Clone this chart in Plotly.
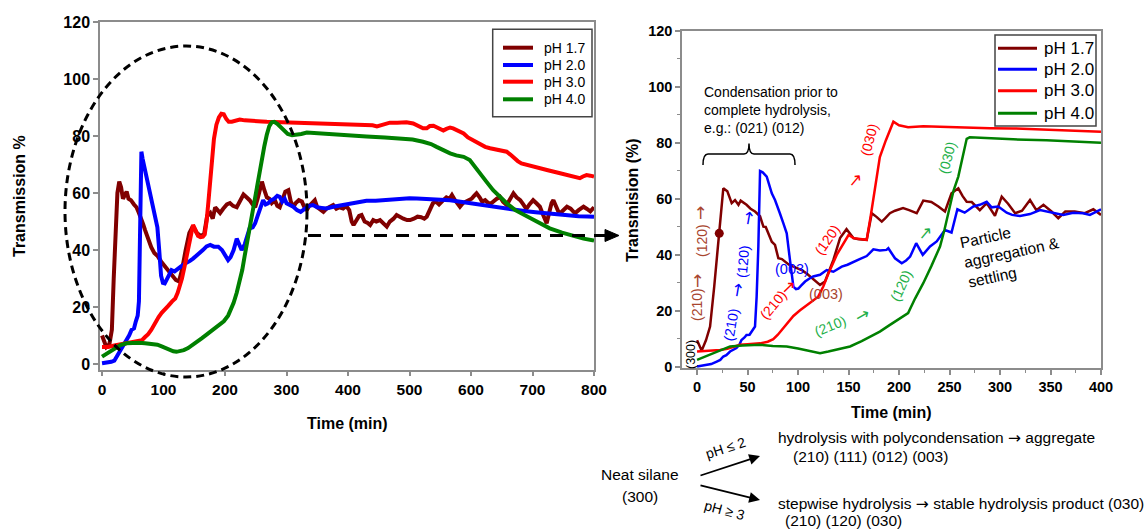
import plotly.graph_objects as go

W, H = 1148, 530


def fx(p):
    return p / W


def fy(p):
    return 1 - p / H


series_names = ["pH 1.7", "pH 2.0", "pH 3.0", "pH 4.0"]
line_colors = ["#800000", "#0000FF", "#FF0000", "#008000"]

# ---------------- left panel (0-800 min) : (time, transmission) ----------------
left_ph17 = [(0, 10), (3, 8), (7, 6), (12, 7), (16, 12), (19, 30), (22, 48), (25, 60), (28, 64), (31, 62),
             (34, 58), (37, 59), (40, 60.5), (43, 58), (47, 57.5), (52, 56), (56, 55), (60, 53), (64, 51),
             (67, 49), (70, 47), (73, 45), (76, 43), (80, 41), (85, 39), (90, 38), (96, 36), (102, 34.5),
             (108, 33), (114, 31.5), (120, 29.5), (125, 29), (130, 33), (136, 40), (142, 46), (148, 48.5),
             (154, 46), (160, 45), (166, 45.5), (171, 52), (176, 53), (180, 51), (184, 55), (188, 54),
             (192, 53), (197, 54.5), (203, 56), (208, 56.5), (213, 55.5), (219, 55), (224, 57), (230, 59.5),
             (235, 58.5), (240, 57.5), (245, 56), (249, 55), (253, 58), (257, 62), (260, 64), (264, 61),
             (268, 58.5), (272, 58), (276, 56.5), (281, 57.5), (285, 55.5), (289, 55), (293, 58), (298, 60.5),
             (303, 61), (307, 57), (311, 55), (315, 56.5), (320, 57.5), (325, 57), (329, 55), (333, 54),
             (337, 55.5), (341, 56.5), (346, 57.5), (350, 55), (355, 54), (360, 53.4), (365, 54.5), (370, 55),
             (376, 55.8), (381, 54.5), (386, 55), (392, 54.6), (397, 55.5), (402, 54), (406, 50), (409, 48.8),
             (414, 50.5), (418, 52), (422, 52.3), (427, 50), (432, 49.5), (436, 48.8), (441, 50.5), (446, 50),
             (452, 50.5), (457, 49.5), (463, 48.2), (468, 50), (474, 51), (479, 52.3), (485, 51.5), (490, 51),
             (496, 50.5), (501, 50.5), (507, 51), (513, 51.7), (519, 51.5), (524, 51), (528, 51.7), (533, 54),
             (538, 56.4), (543, 57), (548, 56), (555, 57.5), (560, 58.5), (565, 58), (569, 59.3), (574, 57.5),
             (578, 56), (582, 55.2), (587, 56.5), (591, 57), (596, 57.5), (601, 58), (605, 59), (609, 59.9),
             (614, 58.5), (618, 57), (623, 57.5), (628, 56.5), (633, 56.4), (638, 57.5), (642, 58), (647, 58.7),
             (652, 57), (658, 55.8), (663, 58), (669, 59.9), (674, 58.5), (680, 57.5), (685, 56), (690, 54.4),
             (695, 56), (701, 57.5), (706, 56.5), (712, 55.2), (716, 53), (720, 50.5), (723, 49.4), (727, 53),
             (731, 56.5), (734, 57.5), (738, 55.5), (742, 53.5), (745, 52.9), (750, 54), (756, 55.2),
             (762, 54.5), (769, 52.9), (775, 54), (783, 55.2), (788, 54.5), (794, 53.6), (800, 55)]

left_ph20 = [(0, 0.3), (5, 0.5), (10, 0.4), (15, 0.8), (20, 1.2), (25, 3), (30, 4.5), (35, 6.5), (40, 8),
             (44, 10), (48, 12), (52, 12.5), (55, 15), (58, 17), (60, 22), (62, 50), (64, 74.5), (66, 72),
             (70, 68), (74, 64), (78, 60), (82, 56), (86, 53), (90, 48), (93, 40), (96, 31), (99, 28.5),
             (102, 28.3), (106, 30), (110, 32), (113, 33), (118, 32.5), (123, 33.5), (128, 34.2), (133, 35),
             (138, 35.5), (143, 36.2), (148, 37), (154, 38), (159, 38.8), (164, 40), (170, 41.3), (176, 41.8),
             (182, 41.2), (189, 41.2), (195, 40), (200, 38), (205, 36.5), (209, 37.5), (214, 40), (219, 44),
             (223, 42), (227, 40), (232, 42), (236, 45), (240, 47.6), (245, 48), (249, 49.4), (253, 52),
             (257, 55), (262, 57.5), (266, 56), (270, 56.4), (275, 57.5), (280, 58), (285, 59), (289, 58.7),
             (293, 57), (297, 58), (300, 56.4), (305, 56), (311, 55.2), (317, 54), (323, 53.4), (330, 54.5),
             (337, 55.5), (343, 55.8), (350, 55), (357, 54.8), (365, 54.6), (376, 55.2), (385, 55.5),
             (393, 56), (403, 56.4), (415, 56.8), (430, 57.3), (445, 57.3), (457, 57.5), (470, 57.8),
             (485, 58), (500, 58.2), (512, 58.1), (525, 58), (540, 57.8), (555, 57.6), (566, 57.5), (580, 57),
             (595, 56.5), (610, 56), (620, 55.8), (635, 55.2), (650, 54.7), (662, 54.3), (674, 54),
             (690, 53.6), (705, 53.3), (718, 53), (728, 52.9), (745, 52.4), (760, 52.1), (775, 51.9),
             (790, 51.8), (800, 51.7)]

left_ph30 = [(0, 6), (10, 6), (20, 6.5), (30, 7), (40, 7.5), (50, 8), (60, 8.2), (65, 8.4), (70, 9.5),
             (75, 10.5), (80, 12), (86, 14.5), (92, 16.5), (97, 18), (102, 19), (108, 20.5), (114, 22),
             (119, 23), (123, 25), (127, 27.5), (130, 30), (134, 34), (137, 37), (140, 40), (144, 45),
             (148, 48.8), (152, 47), (156, 45), (160, 44.5), (164, 44.7), (167, 45.5), (170, 50), (173, 57),
             (176, 64), (179, 72), (182, 79), (186, 84), (190, 86.5), (194, 87.8), (198, 87.6), (202, 86),
             (206, 85), (211, 85), (217, 85.5), (224, 85.8), (232, 85.5), (240, 85.3), (250, 85.2),
             (260, 85.1), (268, 85), (280, 84.9), (295, 84.8), (310, 84.7), (322, 84.7), (340, 84.5),
             (360, 84.3), (380, 84.4), (400, 84.2), (420, 84), (440, 83.8), (447, 83.4), (455, 84),
             (462, 84.6), (468, 84.7), (480, 84.7), (495, 84.8), (506, 84.4), (515, 83.5), (522, 82.7),
             (528, 82.7), (533, 83.5), (539, 83.6), (545, 82.9), (550, 82.2), (555, 81.9), (560, 82.5),
             (566, 83), (571, 82.7), (577, 82), (582, 81.3), (588, 80.9), (595, 79.5), (602, 78.6), (609, 78),
             (616, 77.2), (623, 76.2), (631, 75.7), (638, 75.3), (645, 75), (652, 74.7), (658, 74.5),
             (664, 73.5), (670, 72.2), (676, 71.2), (682, 70.4), (690, 69.9), (700, 69.3), (712, 68.7),
             (725, 68), (740, 67.2), (755, 66.3), (765, 65.8), (771, 65.3), (777, 65.2), (782, 65.8),
             (788, 66.3), (794, 66.1), (800, 65.8)]

left_ph40 = [(0, 2.6), (10, 4), (20, 5.5), (30, 6.7), (40, 7.3), (50, 7.5), (60, 7.5), (70, 7.3), (80, 7.1),
             (90, 6.8), (97, 6.2), (104, 5.5), (110, 4.9), (116, 4.5), (121, 4.3), (127, 4.5), (133, 4.9),
             (140, 5.6), (147, 6.6), (155, 7.8), (162, 9), (170, 10.3), (178, 11.6), (185, 12.7), (192, 14),
             (198, 15), (205, 17), (210, 19.2), (214, 21.5), (219, 25), (224, 29), (228, 33), (232, 38),
             (236, 43), (240, 48), (244, 53), (248, 57), (252, 62), (256, 67), (260, 72), (264, 76.5),
             (268, 80.5), (272, 83.5), (276, 84.8), (280, 85), (285, 84.3), (290, 83.3), (296, 81.9),
             (302, 80.7), (309, 80.3), (316, 80.4), (324, 80.7), (333, 81.2), (345, 81), (360, 80.8),
             (380, 80.5), (403, 80), (430, 79.8), (460, 79.5), (485, 79.2), (505, 78.8), (522, 78),
             (535, 77.2), (544, 76.2), (555, 75), (566, 73.9), (576, 73.2), (588, 72.7), (598, 71.6),
             (606, 69.5), (615, 66.9), (625, 64), (636, 61), (647, 58.5), (658, 56.4), (672, 54), (691, 51.7),
             (710, 49.5), (728, 47.6), (748, 46.1), (766, 44.9), (783, 44), (800, 43.3)]

# ---------------- right panel (0-400 min) ----------------
right_ph17 = [(0, 9.5), (4.6, 5.8), (8.9, 9.6), (12.9, 14.4), (17, 28.7), (22, 47.7), (26, 63.8), (30, 62.7),
              (34.3, 58.5), (37.6, 59.6), (41, 57.9), (43.2, 59.4), (49, 57.9), (53, 56.5), (57.4, 55.5),
              (62.4, 53.8), (65.7, 50.1), (68, 50), (70.6, 47.7), (74, 44.7), (77.2, 43.6), (80.5, 38.8),
              (84, 38.5), (87, 37.7), (91, 36.5), (95.4, 35.8), (99, 35.2), (103.6, 34.6), (108, 33.5),
              (112, 32.3), (117, 30.8), (121.8, 29.3), (126.7, 30.5), (135, 38.2), (141.6, 46), (148, 49.2),
              (154.8, 46), (160, 45.6), (168, 45.4), (173, 54.9), (178, 53.5), (182.9, 51.9), (186, 53),
              (191, 54.9), (196, 55.8), (204, 56.7), (210, 56), (217.5, 54.9), (224, 59.4), (232, 58.9),
              (239, 57.3), (245.5, 55.5), (252, 62), (258.7, 63.8), (263, 61), (267, 59), (272, 58.9),
              (276, 57.5), (280, 56), (286.8, 58.5), (291, 56), (295, 54), (301.7, 60.8), (308, 58.3),
              (315, 54.9), (321.8, 55.8), (329.7, 59.6), (336, 56), (343, 57.9), (351, 55.5), (357.7, 53.1),
              (364.6, 55.5), (374, 55.5), (384, 54.9), (392.4, 56.3), (400, 54.3)]

right_ph20 = [(0, 0.1), (5, 0.4), (9, 0.6), (14, 1), (19.5, 1.9), (23, 2.5), (26, 3.7), (29, 4.2), (32.7, 5.5),
              (36, 6), (39, 6.7), (42, 8), (44, 9.6), (47, 10.5), (49, 11.4), (52, 11.5), (54, 12.6),
              (57.4, 14.4), (59, 25), (60.7, 43), (62.4, 70), (65, 69.5), (69, 68), (72, 64), (74, 62),
              (77.2, 59.6), (80, 56.5), (82, 54.9), (85.5, 51.3), (88.8, 47.7), (92, 38.2), (95.4, 28.7),
              (98, 27.8), (100.3, 28), (103, 29), (107, 30.5), (111, 31.5), (115, 32.3), (121.8, 32.9),
              (125, 33.8), (128.4, 34.6), (135, 34), (139, 35), (143.3, 35.8), (149, 36.5), (154.8, 37.6),
              (161, 38.5), (168, 39.6), (174.6, 42), (181, 41.6), (187.6, 41.8), (189.4, 42.4), (196, 38.8),
              (202.7, 37), (207, 38), (211, 39.4), (217, 44.2), (223.5, 40), (230.7, 43), (237.3, 44.8),
              (241, 46.5), (245.5, 48.9), (252, 48), (257.8, 56.3), (265, 55.1), (273.6, 57.3), (280, 57.9),
              (286.8, 59), (291.7, 57), (298.3, 57.3), (306.6, 55.1), (312, 54.3), (319.8, 53.9),
              (329.7, 54.6), (339.6, 56), (346, 55.5), (353, 54.9), (362.6, 54.3), (372.5, 55.1),
              (382.4, 54.9), (389, 54.3), (395, 55.3), (400, 56.3)]

right_ph30 = [(0, 5.5), (10, 5.7), (22.8, 6), (30, 6.5), (42.6, 7.9), (50, 8.1), (62.4, 8.4), (70, 9),
              (75.5, 9.9), (80, 11.5), (85.4, 13.8), (90, 16), (95.4, 18.2), (102, 20.2), (108.6, 22.1),
              (114, 23.6), (120, 25.1), (125, 28.7), (130, 33.3), (138.3, 40), (144, 43.5), (150, 47.1),
              (155, 46), (161, 45.6), (168, 45.4), (172, 54), (176, 63), (181, 75), (187, 81), (194.4, 87.6),
              (200, 86.3), (209, 85.6), (224, 86), (240, 85.8), (263.7, 85.6), (290, 85.3), (313, 85.2),
              (330, 85), (346, 84.6), (370, 84.3), (400, 84)]

right_ph40 = [(0, 2.5), (10, 4), (20, 5.5), (32.7, 7.3), (45, 7.6), (62.4, 7.9), (75, 7.5), (88.8, 7.3),
              (100, 6.6), (110, 5.8), (121.8, 4.9), (130, 5.5), (140, 6.3), (151.5, 7.3), (163, 9.2),
              (174.6, 11.4), (181, 12.6), (191, 15), (201, 17.5), (209, 19.2), (216, 24.5), (224, 29.9),
              (232, 36), (240.6, 43), (245, 49), (250.5, 57.3), (254, 63), (258.7, 68), (263, 75), (267, 81.5),
              (270, 82), (290, 81.6), (313, 81.3), (346, 81), (370, 80.6), (400, 80.1)]

right_marker = [(22, 47.7)]

left_xticks = [0, 100, 200, 300, 400, 500, 600, 700, 800]
left_yticks = [0, 20, 40, 60, 80, 100, 120]
right_xticks = [0, 50, 100, 150, 200, 250, 300, 350, 400]
right_yticks = [0, 20, 40, 60, 80, 100, 120]

FONT = "Liberation Sans, Arial, sans-serif"
ARROW_FONT = "DejaVu Sans"

fig = go.Figure()

for name, color, pts in zip(series_names, line_colors, [left_ph17, left_ph20, left_ph30, left_ph40]):
    t, v = zip(*pts)
    fig.add_trace(go.Scatter(x=list(t), y=list(v), mode="lines", name=name, showlegend=False,
                             line=dict(color=color, width=4), xaxis="x", yaxis="y"))

for name, color, pts in zip(series_names, line_colors, [right_ph17, right_ph20, right_ph30, right_ph40]):
    t, v = zip(*pts)
    fig.add_trace(go.Scatter(x=list(t), y=list(v), mode="lines", name=name, showlegend=False,
                             line=dict(color=color, width=2.5), xaxis="x2", yaxis="y2"))

mt, mv = zip(*right_marker)
fig.add_trace(go.Scatter(x=list(mt), y=list(mv), mode="markers", showlegend=False,
                         marker=dict(color=line_colors[0], size=9), xaxis="x2", yaxis="y2"))

AX = "#8c8c8c"


def axis(domain, rng, tickvals, size, anchor, minor=None):
    d = dict(domain=domain, range=rng, tickmode="array", tickvals=tickvals, anchor=anchor,
             automargin=False,
             showline=True, linecolor=AX, linewidth=1.5, mirror=True, ticks="outside",
             tickcolor=AX, tickwidth=1.5, ticklen=5, showgrid=False, zeroline=False,
             tickfont=dict(family=FONT, size=size, color="black", weight="bold"))
    if minor is not None:
        d["minor"] = dict(ticks="outside", ticklen=3, tickcolor=AX, tickwidth=1.2, dtick=minor, showgrid=False)
    return d


layout_axes = dict(
    xaxis=axis([fx(100), fx(594)], [-3.3, 800], left_xticks, 15.5, "y"),
    yaxis=axis([fy(369.5), fy(22)], [-1.9, 120], left_yticks, 16, "x"),
    xaxis2=axis([fx(682), fx(1101)], [-14.9, 400], right_xticks, 14.5, "y2", minor=25),
    yaxis2=axis([fy(368), fy(31)], [-0.4, 120], right_yticks, 14.5, "x2", minor=10),
)

annotations = []
shapes = []


def ann(x, y, text, size, color="black", angle=0, xanchor="center", bold=False, align="center", family=FONT):
    annotations.append(dict(x=fx(x), y=fy(y), xref="paper", yref="paper", text=text, showarrow=False,
                            textangle=angle, xanchor=xanchor, yanchor="middle", align=align,
                            font=dict(family=family, size=size, color=color,
                                      weight="bold" if bold else "normal")))


ARW = '<span style="font-family:DejaVu Sans">→</span>'

# axis titles
ann(20, 196, "Transmission %", 16, angle=-90, bold=True)
ann(347, 423, "Time (min)", 16, bold=True)
ann(632, 200, "Transmision (%)", 16, angle=-90, bold=True)
ann(891, 412, "Time (min)", 16, bold=True)

# legends (drawn)
legend_specs = [
    dict(box=(492.7, 29.3, 592, 116.7), lx=(503, 533), tx=541.7, rows=[47.7, 65, 81.7, 99.3], size=14, lw=4),
    dict(box=(995, 35, 1096, 126), lx=(998, 1037), tx=1041.7, rows=[48.3, 69.3, 90.7, 113.3], size=17, lw=3),
]
for spec in legend_specs:
    x0, y0, x1, y1 = spec["box"]
    shapes.append(dict(type="rect", xref="paper", yref="paper", x0=fx(x0), x1=fx(x1), y0=fy(y1), y1=fy(y0),
                       line=dict(color="#444444", width=1.5), fillcolor="white", layer="above"))
    for name, color, ry in zip(series_names, line_colors, spec["rows"]):
        shapes.append(dict(type="line", xref="paper", yref="paper", x0=fx(spec["lx"][0]), x1=fx(spec["lx"][1]),
                           y0=fy(ry), y1=fy(ry), line=dict(color=color, width=spec["lw"]), layer="above"))
        ann(spec["tx"], ry, name, spec["size"], xanchor="left")

# dashed ellipse and dashed arrow
shapes.append(dict(type="circle", xref="paper", yref="paper", x0=fx(65), x1=fx(307), y0=fy(377), y1=fy(46),
                   line=dict(color="black", width=3, dash="8px,5px"), layer="above"))
shapes.append(dict(type="line", xref="paper", yref="paper", x0=fx(308), x1=fx(607), y0=fy(235.5), y1=fy(235.5),
                   line=dict(color="black", width=3, dash="13px,9px"), layer="above"))
shapes.append(dict(type="path", xref="paper", yref="paper",
                   path=f"M {fx(605)},{fy(229.5)} L {fx(619)},{fy(235.5)} L {fx(605)},{fy(241.5)} Z",
                   fillcolor="black", line=dict(color="black", width=1), layer="above"))

# brace
bp = [(703, 165), (703, 154), (708, 154), (744, 154), (749, 154), (749, 143.5), (749, 154), (754, 154),
      (790, 154), (795, 154), (795, 165)]
P = [f"{fx(a)},{fy(b)}" for a, b in bp]
brace = (f"M {P[0]} Q {P[1]} {P[2]} L {P[3]} Q {P[4]} {P[5]} Q {P[6]} {P[7]} L {P[8]} Q {P[9]} {P[10]}")
shapes.append(dict(type="path", xref="paper", yref="paper", path=brace, line=dict(color="black", width=1.5)))

ann(702, 109.5, "Condensation prior to<br>complete hydrolysis,<br>e.g.: (021) (012)", 14,
    xanchor="left", align="left")

# species labels on right panel
DR, BL, RD, GR = "#A8452E", "#0000FF", "#FF0000", "#1FB04A"
species_labels = [
    ("(300)", "black", 691, 355, -90, 12.5),
    ("(210)", DR, 697, 305, -90, 14),
    ("→", DR, 697, 281, -90, 14),
    ("(120)", DR, 702, 241, -90, 14),
    ("→", DR, 700, 213, -90, 14),
    ("(210)", BL, 731, 325, -80, 14),
    ("→", BL, 737, 290, -80, 14),
    ("(120)", BL, 743, 262, -85, 14),
    ("→", BL, 748, 218, -80, 14),
    ("(003)", BL, 792, 269, 0, 14.5),
    ("(003)", DR, 826, 294, 0, 14.5),
    ("(210)", RD, 773, 305, -50, 14),
    ("→", RD, 788, 287, -45, 14),
    ("(120)", RD, 827, 240, -55, 14),
    ("→", RD, 855, 180, -50, 14),
    ("(030)", RD, 869, 140, -75, 14),
    ("(030)", GR, 947, 158, -75, 14),
    ("(210)", GR, 830, 326, -22, 14),
    ("→", GR, 862, 315, -30, 14),
    ("(120)", GR, 901, 286, -65, 14),
    ("→", GR, 925, 233, -50, 14),
]
for text, color, x, y, ang, sz in species_labels:
    if text == "→":
        ann(x, y, text, 17, color=color, angle=ang, family=ARROW_FONT)
    else:
        ann(x, y, text, sz, color=color, angle=ang)

ann(1011, 252, "Particle<br>aggregation &<br>settling", 15.5, angle=-12, align="left")

# bottom scheme
ann(640, 474, "Neat silane", 15.5)
ann(640, 496, "(300)", 15.5)
ann(776, 437.5, f"hydrolysis with polycondensation {ARW} aggregate", 15.5, xanchor="left")
ann(791, 456, "(210) (111) (012) (003)", 15.5, xanchor="left")
ann(776, 503.5, f"stepwise hydrolysis {ARW} stable hydrolysis product (030)", 15.5, xanchor="left")
ann(783, 520, "(210) (120) (030)", 15.5, xanchor="left")
ann(725, 448, "pH ≤ 2", 14, angle=-18)
ann(724, 510, "pH ≥ 3", 14, angle=15)
for (tx0, ty0, hx, hy) in [(699, 476, 760, 456), (699, 485, 760, 500)]:
    annotations.append(dict(x=fx(hx), y=fy(hy), xref="paper", yref="paper", text="", showarrow=True,
                            ax=tx0 - hx, ay=ty0 - hy, arrowhead=2, arrowsize=1.2, arrowwidth=1.8,
                            arrowcolor="black"))

fig.update_layout(
    width=W, height=H, autosize=False,
    margin=dict(l=0, r=0, t=0, b=0, pad=0),
    paper_bgcolor="white", plot_bgcolor="white",
    showlegend=False,
    annotations=annotations, shapes=shapes,
    **layout_axes,
)

fig.write_html("out.html")
